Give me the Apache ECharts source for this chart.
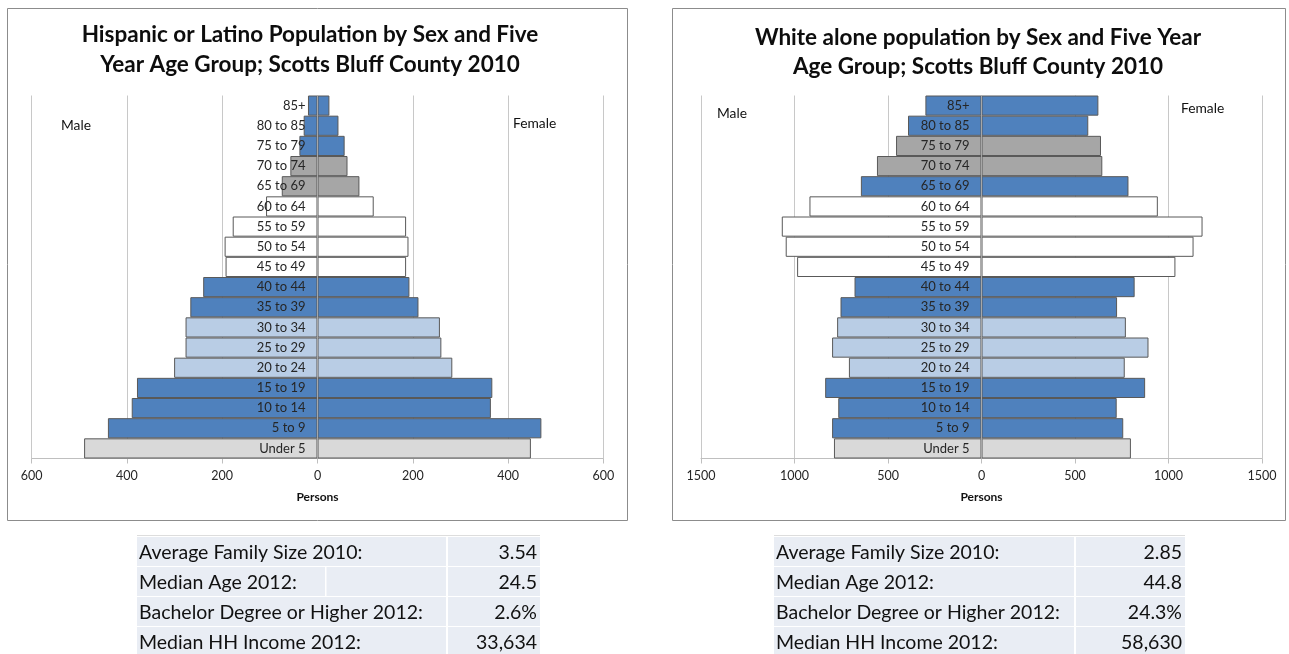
<!DOCTYPE html>
<html>
<head>
<meta charset="utf-8">
<title>Scotts Bluff County 2010 population pyramids</title>
<script src="https://cdn.jsdelivr.net/npm/echarts@6/dist/echarts.min.js"></script>
<style>
  html, body { margin: 0; padding: 0; background: #ffffff; }
  #chart { width: 1289px; height: 654px; }
</style>
</head>
<body>
<div id="chart"></div>
<script>
// Five-year age groups, youngest first (drawn bottom to top)
const ageGroups = ['Under 5', '5 to 9', '10 to 14', '15 to 19', '20 to 24', '25 to 29',
  '30 to 34', '35 to 39', '40 to 44', '45 to 49', '50 to 54', '55 to 59', '60 to 64',
  '65 to 69', '70 to 74', '75 to 79', '80 to 85', '85+'];

// Hispanic or Latino population, persons
const hispanicMale   = [490, 440, 390, 379, 301, 277, 277, 267, 240, 193, 195, 178, 108, 75, 57, 38, 29, 20];
const hispanicFemale = [448, 470, 364, 367, 283, 260, 257, 212, 193, 186, 191, 186, 118, 88, 63, 57, 44, 25];

// White alone population, persons
const whiteMale   = [789, 799, 766, 836, 709, 799, 772, 754, 679, 986, 1047, 1068, 920, 645, 559, 457, 393, 300];
const whiteFemale = [799, 758, 723, 875, 766, 893, 772, 725, 819, 1037, 1134, 1182, 943, 786, 646, 639, 571, 625];

// Axis extents: [min, max, interval]
const hispanicScale = [-600, 600, 200];
const whiteScale = [-1500, 1500, 500];

// Summary tables
const statLabels = ['Average Family Size 2010:', 'Median Age 2012:', 'Bachelor Degree or Higher 2012:', 'Median HH Income 2012:'];
const hispanicStats = ['3.54', '24.5', '2.6%', '33,634'];
const whiteStats = ['2.85', '44.8', '24.3%', '58,630'];

// Bar shading by age band
const palette = { blue: '#4F81BD', pale: '#B9CDE5', white: '#FFFFFF', gray: '#A6A6A6', light: '#D9D9D9' };
const hispanicShade = ['light', 'blue', 'blue', 'blue', 'pale', 'pale', 'pale', 'blue', 'blue',
  'white', 'white', 'white', 'white', 'gray', 'gray', 'blue', 'blue', 'blue'];
const whiteShade = ['light', 'blue', 'blue', 'blue', 'pale', 'pale', 'pale', 'blue', 'blue',
  'white', 'white', 'white', 'white', 'blue', 'gray', 'gray', 'blue', 'blue'];

const FONT = 'Lato, "Open Sans", sans-serif';
const TEXT = '#262626';

// Plot rectangles
const grids = [
  { left: 31.7, width: 571.6, top: 95.5, height: 363 },
  { left: 701, width: 561, top: 95.5, height: 363 }
];

function barData(values, shades, sign) {
  return values.map((v, i) => ({
    value: sign * v,
    itemStyle: { color: palette[shades[i]] }
  }));
}

function xAxisFor(gridIndex, scale) {
  return {
    type: 'value', gridIndex,
    min: scale[0], max: scale[1], interval: scale[2],
    name: 'Persons', nameLocation: 'middle', nameGap: 33,
    nameTextStyle: { fontFamily: FONT, fontSize: 12, fontWeight: 'bold', color: '#111' },
    axisLine: { show: true, lineStyle: { color: '#BFBFBF', width: 1 } },
    axisTick: { show: true, length: 5, lineStyle: { color: '#BFBFBF' } },
    axisLabel: { margin: 11, fontFamily: FONT, fontSize: 12.5, color: TEXT, formatter: v => String(Math.abs(v)) },
    splitLine: { show: true, lineStyle: { color: '#C8C8C8', width: 1 } }
  };
}

// Category axis sits on the zero line (offset pulls it into the middle of the grid)
function yAxisFor(gridIndex) {
  return {
    type: 'category', gridIndex, data: ageGroups, z: 10,
    position: 'left', offset: -grids[gridIndex].width / 2,
    axisLine: { show: true, onZero: false, lineStyle: { color: '#A6A6A6', width: 1 } },
    axisTick: { show: false },
    axisLabel: { margin: 12, fontFamily: FONT, fontSize: 13, color: TEXT }
  };
}

function barSeries(name, axisIndex, values, shades, sign) {
  return {
    type: 'bar', name, xAxisIndex: axisIndex, yAxisIndex: axisIndex,
    stack: 'pyramid' + axisIndex, barCategoryGap: '0%',
    data: barData(values, shades, sign),
    itemStyle: { borderColor: '#595959', borderWidth: 1 },
    emphasis: { disabled: true }
  };
}

function plainText(x, y, text) {
  return {
    type: 'text', x, y,
    style: { text, fontFamily: FONT, fontSize: 13.8, fill: '#111', verticalAlign: 'middle' }
  };
}

function statsTable(x, width, divX, values, extraDiv) {
  const rows = [];
  const rowTop = [537, 567, 597, 627];
  const rowH = 29;
  rowTop.forEach((y, i) => {
    rows.push({ type: 'rect', shape: { x, y, width: divX - x - 1, height: rowH }, style: { fill: '#E9EDF4' } });
    rows.push({ type: 'rect', shape: { x: divX + 1, y, width: x + width - divX - 1, height: rowH }, style: { fill: '#E9EDF4' } });
    rows.push({
      type: 'text', x: x + 2, y: y + rowH / 2 + 1,
      style: { text: statLabels[i], fontFamily: FONT, fontSize: 19.5, fill: '#111', verticalAlign: 'middle' }
    });
    rows.push({
      type: 'text', x: x + width - 3, y: y + rowH / 2 + 1,
      style: { text: values[i], fontFamily: FONT, fontSize: 19.5, fill: '#111', align: 'right', verticalAlign: 'middle' }
    });
  });
  if (extraDiv) {
    rows.push({ type: 'rect', shape: { x: extraDiv, y: rowTop[1], width: 1.5, height: rowH }, style: { fill: '#FFFFFF' } });
  }
  rows.push({ type: 'line', shape: { x1: x, y1: 535.5, x2: x + width, y2: 535.5 }, style: { stroke: '#DDDDDD', lineWidth: 1 } });
  return rows;
}

const chart = echarts.init(document.getElementById('chart'), null, { renderer: 'canvas' });

const titleStyle = { fontFamily: FONT, fontSize: 22.5, fontWeight: 'bold', fill: '#0D0D0D', align: 'center', verticalAlign: 'middle' };

chart.setOption({
  animation: false,
  backgroundColor: '#FFFFFF',
  grid: grids.map(g => Object.assign({ containLabel: false, outerBoundsMode: 'none' }, g)),
  xAxis: [xAxisFor(0, hispanicScale), xAxisFor(1, whiteScale)],
  yAxis: [yAxisFor(0), yAxisFor(1)],
  series: [
    barSeries('Male', 0, hispanicMale, hispanicShade, -1),
    barSeries('Female', 0, hispanicFemale, hispanicShade, 1),
    barSeries('Male', 1, whiteMale, whiteShade, -1),
    barSeries('Female', 1, whiteFemale, whiteShade, 1)
  ],
  graphic: [
    // chart frames
    { type: 'rect', shape: { x: 7.5, y: 8.5, width: 620, height: 512 }, style: { fill: 'none', stroke: '#8C8C8C', lineWidth: 1 }, z: -1 },
    { type: 'rect', shape: { x: 672.5, y: 8.5, width: 613, height: 512 }, style: { fill: 'none', stroke: '#8C8C8C', lineWidth: 1 }, z: -1 },
    // titles
    { type: 'text', x: 310, y: 35, style: Object.assign({ text: 'Hispanic or Latino Population by Sex and Five' }, titleStyle) },
    { type: 'text', x: 310, y: 65, style: Object.assign({ text: 'Year Age Group; Scotts Bluff County 2010' }, titleStyle) },
    { type: 'text', x: 978, y: 38, style: Object.assign({ text: 'White alone population by Sex and Five Year' }, titleStyle) },
    { type: 'text', x: 978, y: 67, style: Object.assign({ text: 'Age Group; Scotts Bluff County 2010' }, titleStyle) },
    // sex labels
    plainText(61, 125.5, 'Male'),
    plainText(513, 123.5, 'Female'),
    plainText(717, 114, 'Male'),
    plainText(1181, 109, 'Female'),
    // summary tables
    ...statsTable(137, 403, 447, hispanicStats, 325),
    ...statsTable(774, 411, 1075, whiteStats, null)
  ]
});
</script>
</body>
</html>
